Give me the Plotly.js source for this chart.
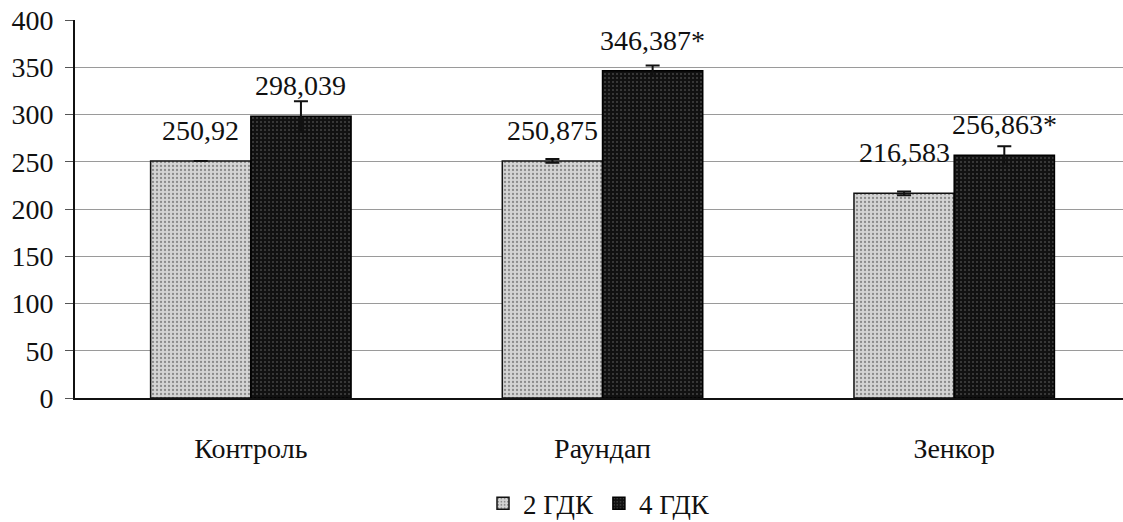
<!DOCTYPE html>
<html>
<head>
<meta charset="utf-8">
<script src="https://cdn.plot.ly/plotly-3.0.1.min.js"></script>
<style>html,body{margin:0;padding:0;background:#fff;}#chart{width:1123px;height:522px;}</style>
</head>
<body>
<div id="chart"></div>
<script>
const categories = ["Контроль", "Раундап", "Зенкор"];
const seriesNames = ["2 ГДК", "4 ГДК"];
const values2 = [250.92, 250.875, 216.583];
const values4 = [298.039, 346.387, 256.863];
const errors2 = [0, 2, 2];
const errors4 = [16, 5.5, 9.5];
const labels2 = ["250,92", "250,875", "216,583"];
const labels4 = ["298,039", "346,387*", "256,863*"];
const yTicks = [0, 50, 100, 150, 200, 250, 300, 350, 400];

const font = "'Liberation Serif'";
const labelShift2 = [30, 30, 41];
const labelShift4 = [31, 30, 31];

const traces = [
  {
    type: "bar", name: seriesNames[0], x: categories, y: values2,
    marker: {color: "#c9c9c9", line: {color: "#111", width: 1.5},
             pattern: {shape: ".", fgcolor: "#8a8a8a", bgcolor: "#d4d4d4", size: 4, solidity: 0.25}},
    error_y: {type: "data", array: errors2, visible: true, color: "#111", thickness: 2, width: 7}
  },
  {
    type: "bar", name: seriesNames[1], x: categories, y: values4,
    marker: {color: "#141414", line: {color: "#000", width: 1.5},
             pattern: {shape: ".", fgcolor: "#444", bgcolor: "#111", size: 4, solidity: 0.2}},
    error_y: {type: "data", array: errors4, visible: true, color: "#111", thickness: 2, width: 7}
  }
];

const annotations = [];
categories.forEach((c, i) => {
  annotations.push({x: c, y: values2[i], xref: "x", yref: "y", text: labels2[i], showarrow: false,
    xshift: -50, yshift: labelShift2[i], font: {family: font, size: 28, color: "#111"}});
  annotations.push({x: c, y: values4[i], xref: "x", yref: "y", text: labels4[i], showarrow: false,
    xshift: 50, yshift: labelShift4[i], font: {family: font, size: 28, color: "#111"}});
});

const layout = {
  width: 1123, height: 522,
  margin: {l: 75, r: 0, t: 20, b: 124, autoexpand: false},
  paper_bgcolor: "#fff", plot_bgcolor: "#fff",
  font: {family: font, size: 26, color: "#111"},
  barmode: "group", bargap: 0.43, bargroupgap: 0,
  showlegend: true,
  legend: {orientation: "h", x: 0.5, xanchor: "center", y: -0.215, yanchor: "top",
           font: {family: font, size: 27, color: "#111"}, itemwidth: 30, traceorder: "normal"},
  xaxis: {
    type: "category", range: [-0.5, 2.48], showgrid: false, automargin: false,
    showline: true, linecolor: "#111", linewidth: 2, ticks: "",
    ticklabelstandoff: 24, tickfont: {family: font, size: 28, color: "#111"}, zeroline: false
  },
  yaxis: {
    range: [0, 400], tickvals: yTicks, ticktext: yTicks.map(String), automargin: false,
    showgrid: true, gridcolor: "#9a9a9a", gridwidth: 1,
    showline: true, linecolor: "#111", linewidth: 2, mirror: true,
    ticks: "outside", ticklen: 8, tickcolor: "#555", ticklabelstandoff: 6,
    tickfont: {family: font, size: 28, color: "#111"}, zeroline: false
  },
  annotations: annotations
};

Plotly.newPlot("chart", traces, layout, {displayModeBar: false, staticPlot: true});
</script>
</body>
</html>
